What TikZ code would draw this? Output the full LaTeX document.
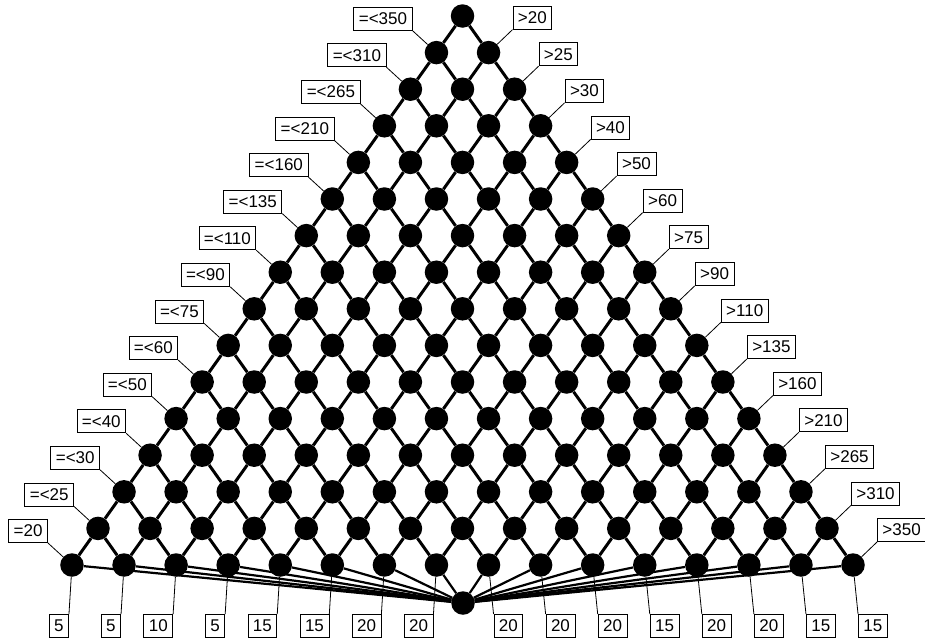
\documentclass[tikz,border=0pt]{standalone}
\usepackage{xcolor}
\usepackage{fontspec}
\setmainfont{Liberation Sans}
\usepackage{tikz}

\begin{document}
\begin{tikzpicture}[x=1pt, y=-1pt,
        punto/.style={circle, fill=black, inner sep=0pt, minimum size=23.5pt},
        arista/.style={line width=3pt},
        abanico/.style={line width=2.2pt},
        hilo/.style={line width=0.8pt},
        etiqueta/.style={draw, fill=white, line width=0.8pt, inner xsep=5pt, inner ysep=0pt,
            minimum height=23pt, font=\fontsize{17}{20}\selectfont}]
        \useasboundingbox (0,0) rectangle (925,640);
        \foreach \k in {0,...,15}
            \foreach \j in {0,...,\k}
                \node[punto] (n-\k-\j) at ({462.5+(\j-\k/2)*52.07}, {16+\k*36.6}) {};
        \node[punto] (fondo) at (463,603) {};
        \foreach \k in {0,...,14}
            \foreach \j in {0,...,\k} {
                \pgfmathtruncatemacro\kk{\k+1}
                \pgfmathtruncatemacro\jj{\j+1}
                \draw[arista] (n-\k-\j) -- (n-\kk-\j);
                \draw[arista] (n-\k-\j) -- (n-\kk-\jj);
            }
        \foreach \j in {0,...,15}
            \draw[abanico] (n-15-\j) -- (fondo);
        \foreach \k/\t in {1/{=<350}, 2/{=<310}, 3/{=<265}, 4/{=<210}, 5/{=<160},
                6/{=<135}, 7/{=<110}, 8/{=<90}, 9/{=<75}, 10/{=<60}, 11/{=<50},
                12/{=<40}, 13/{=<30}, 14/{=<25}, 15/{=20}} {
            \node[etiqueta, anchor=south east, xshift=-24pt, yshift=22pt] (izq-\k) at (n-\k-0) {\t};
            \draw[hilo] (izq-\k.south east) -- (n-\k-0);
        }
        \foreach \k/\t in {1/{>20}, 2/{>25}, 3/{>30}, 4/{>40}, 5/{>50}, 6/{>60},
                7/{>75}, 8/{>90}, 9/{>110}, 10/{>135}, 11/{>160}, 12/{>210},
                13/{>265}, 14/{>310}, 15/{>350}} {
            \node[etiqueta, anchor=south west, xshift=24pt, yshift=23pt] (der-\k) at (n-\k-\k) {\t};
            \draw[hilo] (der-\k.south west) -- (n-\k-\k);
        }
        \foreach \j/\t in {0/5, 1/5, 2/10, 3/5, 4/15, 5/15, 6/20, 7/20} {
            \node[etiqueta, anchor=north east, xshift=-3pt, yshift=-49pt] (abj-\j) at (n-15-\j) {\t};
            \draw[hilo] (abj-\j.north east) -- (n-15-\j);
        }
        \foreach \j/\t in {8/20, 9/20, 10/20, 11/15, 12/20, 13/20, 14/15, 15/15} {
            \node[etiqueta, anchor=north west, xshift=5pt, yshift=-49pt] (abj-\j) at (n-15-\j) {\t};
            \draw[hilo] (abj-\j.north west) -- (n-15-\j);
        }
    \end{tikzpicture}
\end{document}
